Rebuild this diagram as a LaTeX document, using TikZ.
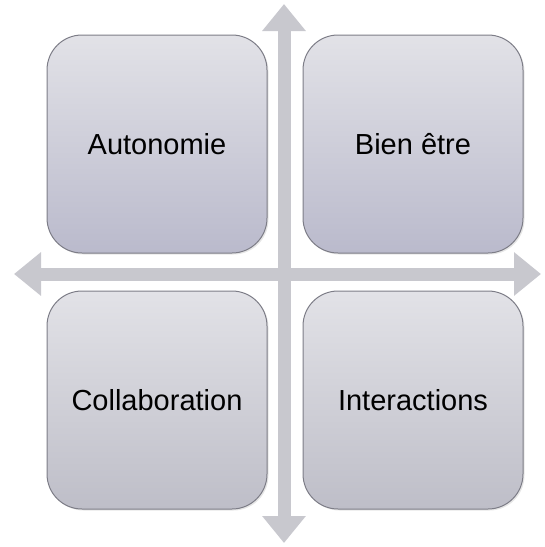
\documentclass[tikz,border=0pt]{standalone}
\usepackage{fontspec}
\setmainfont{Liberation Sans}
\usetikzlibrary{arrows.meta,positioning,shadows}

\definecolor{axegris}{RGB}{200,200,206}
\definecolor{bordgris}{RGB}{125,125,135}
\definecolor{hautclair}{RGB}{226,226,231}
\definecolor{basbleu}{RGB}{186,186,204}
\definecolor{basgris}{RGB}{190,190,200}

\begin{document}
\begin{tikzpicture}[x=1pt,y=1pt]
	\tikzstyle{axe}=[draw=axegris, line width=13pt, {Triangle[width=42pt,length=27pt]}-{Triangle[width=42pt,length=27pt]}]
	\tikzstyle{quadrant}=[draw=bordgris, line width=1pt, rounded corners=35pt, minimum width=220pt, minimum height=218pt, inner sep=0pt, font=\fontsize{29}{34}\selectfont, top color=hautclair, drop shadow={opacity=0.2, shadow xshift=1.5pt, shadow yshift=-1.5pt}]
	\useasboundingbox (0,0) rectangle (545,-547);

	% axes
	\coordinate (haut) at (284,-4);
	\coordinate (bas) at (284,-543);
	\coordinate (gauche) at (14,-274);
	\coordinate (droite) at (541,-274);
	\draw[axe] (gauche) -- (droite);
	\draw[axe] (bas) -- (haut);

	% quadrants
	\node[quadrant, bottom color=basbleu] (autonomie) at (157,-144) {Autonomie};
	\node[quadrant, bottom color=basbleu, right=35pt of autonomie] (bienetre) {Bien être};
	\node[quadrant, bottom color=basgris, below=37pt of autonomie] (collaboration) {Collaboration};
	\node[quadrant, bottom color=basgris, right=35pt of collaboration] (interactions) {Interactions};

	\end{tikzpicture}
\end{document}
